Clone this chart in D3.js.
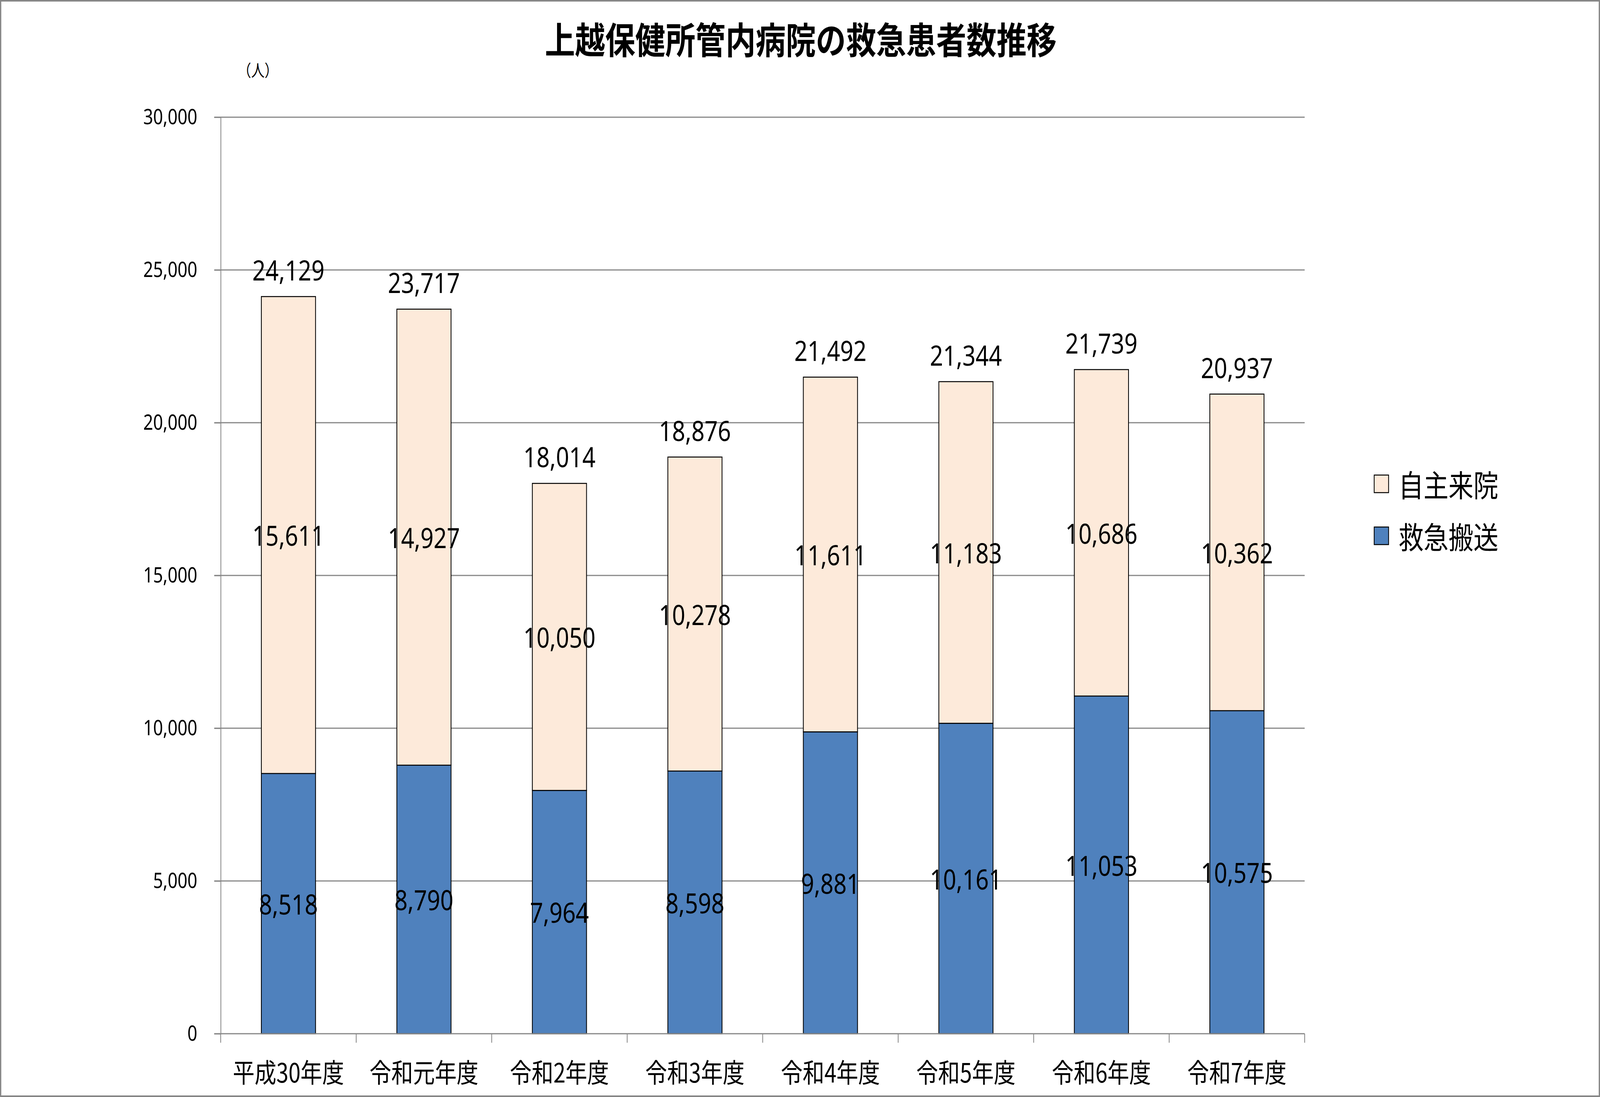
<!DOCTYPE html>
<html>
<head>
<meta charset="utf-8">
<script src="https://cdn.jsdelivr.net/npm/d3@7"></script>
<style>
  html, body { margin: 0; padding: 0; overflow: hidden; background: #fff; }
  svg { display: block; width: 100vw; height: 100vh; }
</style>
</head>
<body>
<svg id="chart"></svg>
<script>
// Données
const categories = ["平成30年度", "令和元年度", "令和2年度", "令和3年度", "令和4年度", "令和5年度", "令和6年度", "令和7年度"];
const transport = [8518, 8790, 7964, 8598, 9881, 10161, 11053, 10575];   // 救急搬送
const walkIn = [15611, 14927, 10050, 10278, 11611, 11183, 10686, 10362]; // 自主来院
const seriesNames = ["自主来院", "救急搬送"];
const yTicks = [0, 5000, 10000, 15000, 20000, 25000, 30000];

// Le dessin est fait dans l'espace 4995x2808 puis étiré sur la fenêtre
const W = 4995, H = 2808;
const plot = { left: 689, right: 4073, top: 300, bottom: 2646 };
const blue = "#4f81bd", beige = "#fdeada";
const numFont = "'Noto Sans', 'Noto Sans CJK JP', sans-serif";
const jpFont = "'Noto Sans CJK JP', sans-serif";

const svg = d3.select("#chart")
  .attr("viewBox", `0 0 ${W} ${H}`)
  .attr("preserveAspectRatio", "none");

// cadre extérieur
svg.append("rect")
  .attr("x", 2).attr("y", 2)
  .attr("width", W - 4).attr("height", H - 4)
  .attr("fill", "#fff")
  .attr("stroke", "#878787")
  .attr("stroke-width", 4);

const x = d3.scaleBand()
  .domain(categories)
  .range([plot.left, plot.right])
  .paddingInner(0.6)
  .paddingOuter(0.3);

const y = d3.scaleLinear()
  .domain([0, 30000])
  .range([plot.bottom, plot.top]);

// lignes de grille
svg.append("g")
  .selectAll("line")
  .data(yTicks.filter(d => d > 0))
  .join("line")
  .attr("x1", plot.left - 20)
  .attr("x2", plot.right)
  .attr("y1", d => y(d))
  .attr("y2", d => y(d))
  .attr("stroke", "#878787")
  .attr("stroke-width", 3);

// axe vertical
const yAxis = svg.append("g")
  .attr("transform", `translate(${plot.left},0)`)
  .call(d3.axisLeft(y).tickValues(yTicks).tickFormat(d3.format(",")).tickSize(20).tickPadding(53));
yAxis.select(".domain").attr("stroke", "#878787").attr("stroke-width", 2.5);
yAxis.selectAll(".tick line").attr("stroke", "#878787").attr("stroke-width", 3);
yAxis.selectAll(".tick text")
  .attr("font-family", numFont)
  .attr("font-size", 54)
  .attr("fill", "#000");

// unité
svg.append("text")
  .attr("x", 805).attr("y", 177)
  .attr("text-anchor", "middle")
  .attr("dominant-baseline", "central")
  .attr("font-family", jpFont)
  .attr("font-size", 42)
  .text("（人）");

// barres empilées
const rows = categories.map((c, i) => ({ cat: c, transport: transport[i], walkIn: walkIn[i] }));
const stack = d3.stack().keys(["transport", "walkIn"])(rows);
const colorOf = { transport: blue, walkIn: beige };

stack.forEach(layer => {
  svg.append("g")
    .selectAll("rect")
    .data(layer)
    .join("rect")
    .attr("x", d => x(d.data.cat))
    .attr("width", x.bandwidth())
    .attr("y", d => y(d[1]))
    .attr("height", d => y(d[0]) - y(d[1]))
    .attr("fill", colorOf[layer.key])
    .attr("stroke", "#000")
    .attr("stroke-width", 2.5);
});

// axe horizontal
const xAxis = svg.append("g")
  .attr("transform", `translate(0,${plot.bottom})`);
xAxis.append("line")
  .attr("x1", plot.left - 20).attr("x2", plot.right)
  .attr("stroke", "#878787").attr("stroke-width", 3);
const bounds = d3.range(categories.length + 1).map(i => plot.left + i * x.step());
xAxis.selectAll("line.tk")
  .data(bounds)
  .join("line")
  .attr("class", "tk")
  .attr("x1", d => d).attr("x2", d => d)
  .attr("y1", 0).attr("y2", 23)
  .attr("stroke", "#878787").attr("stroke-width", 2.5);
xAxis.selectAll("text")
  .data(categories)
  .join("text")
  .attr("x", d => x(d) + x.bandwidth() / 2)
  .attr("y", 95)
  .attr("text-anchor", "middle")
  .attr("dominant-baseline", "central")
  .attr("font-family", jpFont)
  .attr("font-size", 68)
  .text(d => d);

// étiquettes de valeurs
const fmt = d3.format(",");
stack.forEach(layer => {
  svg.append("g")
    .selectAll("text")
    .data(layer)
    .join("text")
    .attr("x", d => x(d.data.cat) + x.bandwidth() / 2)
    .attr("y", d => y((d[0] + d[1]) / 2))
    .attr("text-anchor", "middle")
    .attr("dominant-baseline", "central")
    .attr("font-family", numFont)
    .attr("font-size", 72)
    .text(d => fmt(d[1] - d[0]));
});
svg.append("g")
  .selectAll("text")
  .data(rows)
  .join("text")
  .attr("x", d => x(d.cat) + x.bandwidth() / 2)
  .attr("y", d => y(d.transport + d.walkIn) - 69)
  .attr("text-anchor", "middle")
  .attr("dominant-baseline", "central")
  .attr("font-family", numFont)
  .attr("font-size", 72)
  .text(d => fmt(d.transport + d.walkIn));

// titre
svg.append("text")
  .attr("x", 2500).attr("y", 97)
  .attr("text-anchor", "middle")
  .attr("dominant-baseline", "central")
  .attr("font-family", jpFont)
  .attr("font-weight", "bold")
  .attr("font-size", 94)
  .text("上越保健所管内病院の救急患者数推移");

// légende
const legend = svg.append("g");
const legendItems = [
  { name: seriesNames[0], color: beige, cy: 1238 },
  { name: seriesNames[1], color: blue, cy: 1371 }
];
legendItems.forEach(it => {
  legend.append("rect")
    .attr("x", 4290).attr("y", it.cy - 22)
    .attr("width", 45).attr("height", 45)
    .attr("fill", it.color)
    .attr("stroke", "#000")
    .attr("stroke-width", 2.5);
  legend.append("text")
    .attr("x", 4366).attr("y", it.cy)
    .attr("dominant-baseline", "central")
    .attr("font-family", jpFont)
    .attr("font-size", 78)
    .text(it.name);
});
</script>
</body>
</html>
